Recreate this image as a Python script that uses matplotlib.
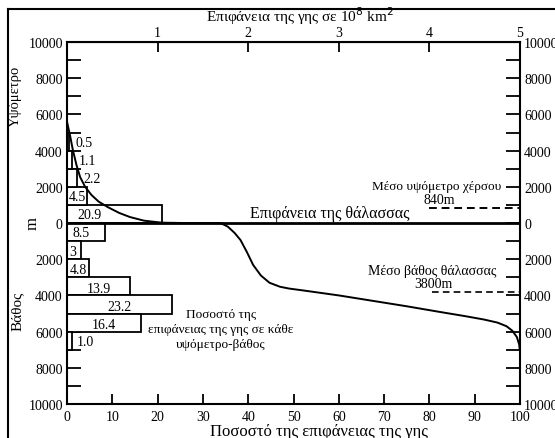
import matplotlib.pyplot as plt
import numpy as np
from matplotlib.ticker import MultipleLocator, FixedLocator, FuncFormatter

plt.rcParams['font.family'] = ['Liberation Serif', 'DejaVu Serif']

# ποσοστό επιφάνειας ανά ζώνη υψομέτρου / βάθους (1000 m)
land_bins = [0, 1000, 2000, 3000, 4000]
land_pct = [20.9, 4.5, 2.2, 1.1, 0.5]
land_txt = ['20.9', '4.5', '2.2', '1.1', '0.5']
sea_bins = [0, -1000, -2000, -3000, -4000, -5000, -6000]
sea_pct = [8.5, 3, 4.8, 13.9, 23.2, 16.4, 1.0]
sea_txt = ['8.5', '3', '4.8', '13.9', '23.2', '16.4', '1.0']

# υψογραφική καμπύλη (αθροιστικό ποσοστό, υψόμετρο)
curve_x = [0, 0.7, 1.3, 2.1, 2.9, 4.0, 5.4, 7.0, 9.0, 11.5, 13.9, 17.0, 20.9, 26.0,
           33.9, 35.5, 37.0, 38.3, 39.7, 41.1, 42.8, 44.7, 47.0, 49.0, 52.0, 60.0,
           67.5, 75.0, 82.0, 88.0, 92.0, 95.0, 97.0, 98.3, 99.3, 99.8, 100.0]
curve_y = [5600, 4800, 4030, 3200, 2540, 2000, 1550, 1180, 880, 560, 330, 130, 20, 0,
           0, -200, -550, -940, -1600, -2320, -2900, -3300, -3520, -3620, -3720, -4000,
           -4300, -4600, -4900, -5150, -5330, -5500, -5700, -5950, -6300, -6700, -7100]

mean_land = 840
mean_sea = -3800

fig = plt.figure(figsize=(5.55, 4.39), dpi=100)
ax = fig.add_axes([0.1207, 0.0774, 0.8163, 0.8246])

# ράβδοι
ax.barh(land_bins, land_pct, height=1000, align='edge', left=0,
        facecolor='white', edgecolor='black', linewidth=1.3, zorder=2)
ax.barh(sea_bins, sea_pct, height=-1000, align='edge', left=0,
        facecolor='white', edgecolor='black', linewidth=1.3, zorder=2)

for b, w, t in zip(land_bins, land_pct, land_txt):
    if w < 3:
        ax.text(w + 1.4, b + 450, t, ha='left', va='center', fontsize=10, zorder=4)
    elif w < 10:
        ax.text(0.4, b + 450, t, ha='left', va='center', fontsize=10, zorder=4)
    else:
        ax.text(2.3, b + 450, t, ha='left', va='center', fontsize=10, zorder=4)
for b, w, t in zip(sea_bins, sea_pct, sea_txt):
    if w < 3:
        ax.text(w + 1.2, b - 550, t, ha='left', va='center', fontsize=10, zorder=4)
    elif w < 10:
        ax.text(0.5 if w < 5 else 1.3, b - 550, t, ha='left', va='center', fontsize=10, zorder=4)
    else:
        ax.text(w / 2, b - 600, t, ha='center', va='center', fontsize=10, zorder=4)

# καμπύλη και επιφάνεια θάλασσας
ax.plot(curve_x, curve_y, color='black', lw=1.4, zorder=3)
ax.axhline(0, color='black', lw=2, zorder=3)

ax.plot([80, 100], [mean_land, mean_land], color='black', lw=1.4, ls=(0, (4, 2.5)))
ax.plot([80.6, 100], [mean_sea, mean_sea], color='black', lw=1.2, ls=(0, (4, 2.5)))

ax.text(58, 120, 'Επιφάνεια της θάλασσας', ha='center', va='bottom', fontsize=11.5)
ax.text(81.6, 2050, 'Μέσο υψόμετρο χέρσου', ha='center', va='center', fontsize=9.5)
ax.text(82.2, 1300, '840m', ha='center', va='center', fontsize=10)
ax.text(80.6, -2640, 'Μέσο βάθος θάλασσας', ha='center', va='center', fontsize=10)
ax.text(80.8, -3330, '3800m', ha='center', va='center', fontsize=10)
ax.text(34, -5050, 'Ποσοστό της', ha='center', va='center', fontsize=9.5)
ax.text(34, -5880, 'επιφάνειας της γης σε κάθε', ha='center', va='center', fontsize=9.5)
ax.text(34, -6700, 'υψόμετρο-βάθος', ha='center', va='center', fontsize=9.5)

ax.set_xlim(0, 100)
ax.set_ylim(-10000, 10000)

ax.xaxis.set_major_locator(MultipleLocator(10))
ax.yaxis.set_major_locator(MultipleLocator(2000))
ax.yaxis.set_minor_locator(MultipleLocator(1000))
ax.yaxis.set_major_formatter(FuncFormatter(lambda v, p: '%d' % abs(v)))
ax.tick_params(axis='y', which='both', direction='in', length=10, width=1.3,
               left=True, right=True, labelleft=True, labelright=True, labelsize=10, pad=3)
ax.tick_params(axis='x', direction='in', length=7, width=1.3, labelsize=10, pad=4, top=False)
for s in ax.spines.values():
    s.set_linewidth(1.5)

ax.set_xlabel('Ποσοστό της επιφάνειας της γης', fontsize=12, labelpad=0, x=0.556)

top = ax.secondary_xaxis('top', functions=(lambda x: x / 20, lambda x: x * 20))
top.xaxis.set_major_locator(FixedLocator([1, 2, 3, 4, 5]))
top.tick_params(direction='in', length=7, width=1.3, labelsize=10, pad=2)
top.set_xlabel('Επιφάνεια της γης σε 10$^{8}$ km$^{2}$', fontsize=11, labelpad=4, x=0.514)

fig.text(0.027, 0.78, 'Υψόμετρο', rotation=90, ha='center', va='center', fontsize=10.5)
fig.text(0.058, 0.492, 'm', rotation=90, ha='center', va='center', fontsize=12)
fig.text(0.031, 0.29, 'Βάθος', rotation=90, ha='center', va='center', fontsize=11)

# πλαίσιο
fig.add_artist(plt.Line2D([8 / 555, 8 / 555], [0, 1 - 10 / 439], color='black', lw=1.5))
fig.add_artist(plt.Line2D([8 / 555, 1], [1 - 10 / 439, 1 - 10 / 439], color='black', lw=1.5))

fig.savefig('out.png', dpi=100)
